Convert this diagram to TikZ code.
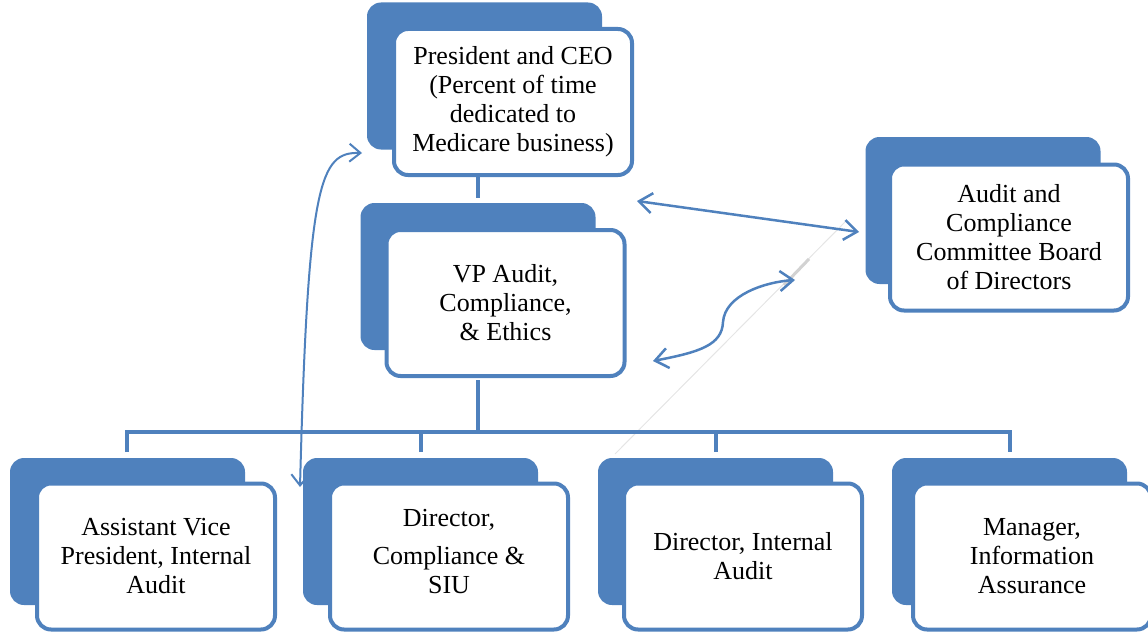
\documentclass[tikz,border=0pt]{standalone}
\usepackage{fontspec}
\setmainfont{Liberation Serif}
\usetikzlibrary{arrows.meta}
\definecolor{obl}{HTML}{4F81BD}
\begin{document}
\begin{tikzpicture}[x=1pt,y=-1pt,
 back/.style={fill=obl, draw=none, rounded corners=14pt, minimum width=235pt, minimum height=147pt, inner sep=0pt},
 front/.style={fill=white, draw=obl, line width=4pt, rounded corners=14pt, minimum width=238pt, minimum height=146pt, inner sep=0pt, align=center, font=\fontsize{26}{29}\selectfont},
 conn/.style={draw=obl, line width=4.5pt},
 dbl/.style={draw=obl, line width=2.5pt, {Straight Barb[length=13pt,width=20pt]}-{Straight Barb[length=13pt,width=20pt]}},
 faint/.style={draw=gray!20, line width=1pt}
]
\useasboundingbox (0,0) rectangle (1148,634);

% faint artifacts
\draw[faint] (845,222) -- (615,454);
\draw[draw=gray!35, line width=3pt] (809,259) -- (784,285);

% back boxes
\node[back] (ceob) at (484.5,76) {};
\node[back] (vpb) at (478,276.5) {};
\node[back] (acb) at (983,210.5) {};
\node[back] (b1b) at (127.5,531.5) {};
\node[back] (b2b) at (420.5,531.5) {};
\node[back] (b3b) at (715.5,531.5) {};
\node[back] (b4b) at (1009.5,531.5) {};

% front boxes
\node[front] (ceo) at (513,102) {President and CEO\\(Percent of time\\dedicated to\\Medicare business)};
\node[front] (vp) at (505.5,303) {VP Audit,\\Compliance,\\\& Ethics};
\node[front] (ac) at (1009,237.5) {Audit and\\Compliance\\Committee Board\\of Directors};
\node[front] (b1) at (156,556.5) {Assistant Vice\\President, Internal\\Audit};
\node[front] (b2) at (449,556.5) {\raisebox{9pt}[17pt][0pt]{Director,}\\Compliance \&\\SIU};
\node[front] (b3) at (743,556.5) {Director, Internal\\Audit};
\node[front] (b4) at (1032,556.5) {Manager,\\Information\\Assurance};

% tree connectors
\coordinate (ct) at (478,177);
\coordinate (cb) at (478,198);
\coordinate (vt) at (478,380);
\coordinate (bus) at (478,432);
\coordinate (d1) at (127,452);
\coordinate (d2) at (421,452);
\coordinate (d3) at (716,452);
\coordinate (d4) at (1010,452);
\draw[conn] (ct) -- (cb);
\draw[conn] (vt) -- (bus);
\draw[conn] (d1) |- (bus) -| (d4);
\draw[conn] (d2) -- (d2 |- bus);
\draw[conn] (d3) -- (d3 |- bus);

% arrows
\coordinate (a1) at (637,201);
\coordinate (a2) at (859,232);
\draw[dbl] (a1) -- (a2);

\coordinate (s1) at (653,361);
\coordinate (sm) at (723,322);
\coordinate (s2) at (795,280);
\draw[dbl] (s1) .. controls (700,352) and (722,345) .. (sm) .. controls (725,295) and (765,282) .. (s2);

\coordinate (l1) at (300,487);
\coordinate (l2) at (362,153);
\draw[draw=obl, line width=2pt, {Straight Barb[length=11pt,width=18pt]}-{Straight Barb[length=11pt,width=18pt]}] (l1) .. controls (308,180) and (320,152) .. (l2);
\end{tikzpicture}
\end{document}
